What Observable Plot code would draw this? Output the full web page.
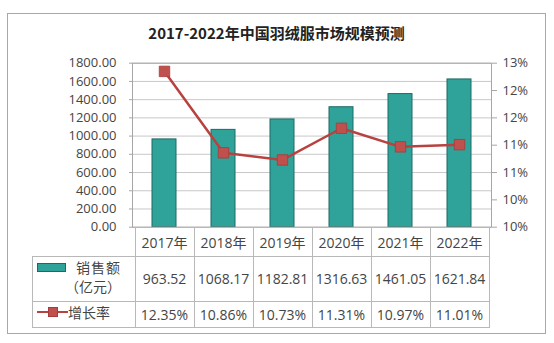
<!DOCTYPE html>
<html><head><meta charset="utf-8">
<script src="https://cdn.jsdelivr.net/npm/d3@7"></script>
<script src="https://cdn.jsdelivr.net/npm/@observablehq/plot@0.6"></script>
<style>
body{margin:0;background:#fff;}
#wrap{position:relative;width:554px;height:343px;overflow:hidden;font-family:'Open Sans','Noto Sans CJK SC',sans-serif;color:#454545;background:#fff;}
#box{position:absolute;left:7px;top:13px;width:539px;height:321px;border:1.5px solid #a8a8a8;box-sizing:border-box;}
#title{position:absolute;left:7px;width:539px;top:22px;text-align:center;font-weight:bold;font-size:15px;font-family:'Noto Sans CJK SC',sans-serif;color:#222;line-height:22px;}
#chart{position:absolute;left:0;top:0;}
.cell{position:absolute;box-sizing:border-box;border:1px solid #b8b8b8;display:flex;align-items:center;justify-content:center;font-size:14px;white-space:nowrap;}
.abs{position:absolute;box-sizing:border-box;white-space:nowrap;font-size:14px;}
.cjk{font-family:'Noto Sans CJK SC',sans-serif;}
</style></head>
<body><div id="wrap"><div id="box"></div><div id="title">2017-2022年中国羽绒服市场规模预测</div><div id="chart"></div></div>
<script>
// ---- data ----
const years = ["2017年", "2018年", "2019年", "2020年", "2021年", "2022年"];
const sales = [963.52, 1068.17, 1182.81, 1316.63, 1461.05, 1621.84];
const growth = [12.35, 10.86, 10.73, 11.31, 10.97, 11.01];
const salesLabels = ["963.52", "1068.17", "1182.81", "1316.63", "1461.05", "1621.84"];
const growthLabels = ["12.35%", "10.86%", "10.73%", "11.31%", "10.97%", "11.01%"];
const leftTicks = [0, 200, 400, 600, 800, 1000, 1200, 1400, 1600, 1800];
const rightTicks = [9.5, 10, 10.5, 11, 11.5, 12, 12.5];
const rightTickLabels = ["10%", "10%", "11%", "11%", "12%", "12%", "13%"];
const seriesNames = ["销售额", "（亿元）", "增长率"];

const teal = "#2fa39a", tealDark = "#1d6a65", red = "#b8423f", redFill = "#c0504d";

// right axis domain [9.5, 12.5] mapped onto left domain [0, 1800]
const toLeft = g => (g - 9.5) / 3 * 1800;
const rightLabel = new Map(rightTicks.map((t, i) => [Math.round(toLeft(t)), rightTickLabels[i]]));
const rows = years.map((y, i) => ({year: y, sales: sales[i], growth: growth[i]}));

const plot = Plot.plot({
  width: 554, height: 240,
  marginLeft: 132, marginRight: 63, marginTop: 62.7, marginBottom: 240 - 226.7,
  style: {fontFamily: "'Open Sans','Noto Sans CJK SC',sans-serif", fontSize: "13px", color: "#454545", background: "transparent"},
  x: {domain: years, paddingInner: 0.6, paddingOuter: 0.3, axis: null},
  y: {domain: [0, 1800], axis: null},
  marks: [
    Plot.gridY(leftTicks, {stroke: "#c8c8c8", strokeOpacity: 1}),
    Plot.barY(rows, {x: "year", y: "sales", fill: teal, stroke: tealDark, strokeWidth: 1}),
    Plot.frame({stroke: "#a6a6a6"}),
    Plot.axisY(leftTicks, {anchor: "left", label: null, tickSize: 3, tickPadding: 13, tickFormat: d => d.toFixed(2), stroke: "#a6a6a6"}),
    Plot.axisY(rightTicks.map(toLeft), {anchor: "right", label: null, tickSize: 5, tickPadding: 6, tickFormat: d => rightLabel.get(Math.round(d)), stroke: "#a6a6a6"}),
    Plot.line(rows, {x: "year", y: d => toLeft(d.growth), stroke: red, strokeWidth: 2.5}),
    Plot.dot(rows, {x: "year", y: d => toLeft(d.growth), symbol: "square", r: 5.9, fill: redFill, stroke: "#a83a38", strokeWidth: 0.8})
  ]
});
const wrap = document.getElementById("wrap");
document.getElementById("chart").appendChild(plot);

// ---- data table aligned with the x band scale ----
const xs = plot.scale("x");
const colLeft = y => xs.apply(y) + xs.bandwidth / 2 - xs.step / 2;
const tableLeft = 32, plotLeft = colLeft(years[0]);
const rowTops = [226.7, 255.7, 301, 326.7];
function cell(x, y, w, h, text, extra) {
  const d = document.createElement("div");
  d.className = "cell";
  Object.assign(d.style, {left: x + "px", top: y + "px", width: (w + 1) + "px", height: (h + 1) + "px"}, extra || {});
  d.textContent = text || "";
  wrap.appendChild(d);
  return d;
}
function abs(styles, text, cls) {
  const d = document.createElement("div");
  d.className = "abs" + (cls ? " " + cls : "");
  Object.assign(d.style, styles);
  if (text) d.textContent = text;
  wrap.appendChild(d);
  return d;
}
years.forEach((y, i) => {
  const x = colLeft(y);
  cell(x, rowTops[0], xs.step, rowTops[1] - rowTops[0], y);
  cell(x, rowTops[1], xs.step, rowTops[2] - rowTops[1], salesLabels[i]);
  cell(x, rowTops[2], xs.step, rowTops[3] - rowTops[2], growthLabels[i]);
});
cell(tableLeft, rowTops[1], plotLeft - tableLeft, rowTops[2] - rowTops[1], "");
cell(tableLeft, rowTops[2], plotLeft - tableLeft, rowTops[3] - rowTops[2], "");
// legend: sales
abs({left: "36.7px", top: "263.3px", width: "29px", height: "8.5px", background: teal, border: "1px solid " + tealDark});
abs({left: "76px", top: "259px", lineHeight: "16px", letterSpacing: "1px"}, seriesNames[0], "cjk");
abs({left: "65px", top: "277.5px", lineHeight: "16px"}, seriesNames[1], "cjk");
// legend: growth
abs({left: "36.7px", top: "310.5px", width: "31.3px", height: "2.5px", background: red});
abs({left: "48px", top: "306.8px", width: "10px", height: "10px", background: redFill, border: "0.8px solid #a83a38"});
abs({left: "68px", top: "304px", lineHeight: "16px"}, seriesNames[2], "cjk");
</script>
</body></html>
